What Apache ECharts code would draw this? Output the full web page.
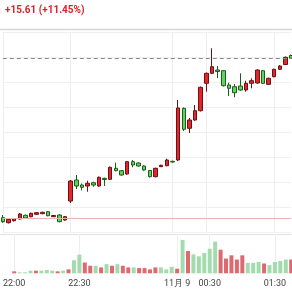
<!DOCTYPE html>
<html><head><meta charset="utf-8">
<script src="https://cdn.jsdelivr.net/npm/echarts@6/dist/echarts.min.js"></script>
<style>html,body{margin:0;padding:0;background:#fff}#c{width:292px;height:292px}</style>
</head><body><div id="c"></div>
<script>
const categories = ['21:30','21:35','21:40','21:45','21:50','21:55',
 '22:00','22:05','22:10','22:15','22:20','22:25','22:30','22:35','22:40','22:45','22:50','22:55',
 '23:00','23:05','23:10','23:15','23:20','23:25','23:30','23:35','23:40','23:45','23:50','23:55',
 '00:00','00:05','00:10','00:15','00:20','00:25','00:30','00:35','00:40','00:45','00:50','00:55',
 '01:00','01:05','01:10','01:15','01:20','01:25','01:30','01:35','01:40','01:45'];
const tickIndex = [0, 12, 30, 36, 48];
const tickLabels = ['22:00', '22:30', '11月 9', '00:30', '01:30'];
// [open, close, low, high]
const candles = [
 [136.41,136.01,135.88,136.68],[135.91,136.25,135.83,136.33],[136.11,136.31,136.03,136.38],
 [136.28,136.78,136.23,136.88],[136.65,136.38,136.33,136.73],[136.51,136.85,136.45,136.93],
 [136.75,136.91,136.68,136.98],[136.81,136.95,136.76,137.01],[137.01,136.61,136.55,137.08],
 [136.51,136.63,136.48,136.68],[136.68,136.01,135.95,136.75],[136.18,136.51,136.11,136.58],
 [138.08,140.08,137.88,140.18],[140.18,139.58,139.28,140.68],[139.68,139.45,139.13,139.83],
 [139.58,139.85,139.01,140.11],[139.91,139.68,139.51,140.01],[139.58,140.45,139.51,140.53],
 [140.35,140.23,139.58,140.41],[140.25,141.45,140.18,141.53],[141.35,141.11,141.05,141.91],
 [141.11,140.68,140.61,141.18],[140.78,142.01,140.71,142.08],[142.01,141.68,141.45,142.18],
 [141.88,141.58,141.51,141.95],[141.58,141.18,141.11,141.65],[141.13,140.51,140.43,141.18],
 [140.51,141.35,140.45,141.41],[141.51,141.65,141.48,141.71],[141.61,142.18,141.55,142.31],
 [142.05,141.98,141.91,142.11],[142.18,147.38,142.08,148.18],[147.35,145.25,145.08,147.43],
 [145.35,146.18,144.88,146.38],[146.18,147.11,146.11,147.68],[147.11,149.45,147.03,149.53],
 [149.85,150.85,149.01,150.93],[150.85,151.51,150.78,153.35],[151.18,151.03,150.38,151.58],
 [151.11,149.61,149.53,151.18],[149.68,149.35,148.58,149.91],[149.51,148.91,148.45,149.78],
 [149.58,149.18,149.11,150.85],[149.18,149.85,149.01,150.11],[149.85,150.11,149.35,150.35],
 [149.88,151.18,149.81,151.25],[151.11,149.85,149.78,151.18],[149.75,150.35,149.68,150.41],
 [150.51,151.25,150.45,151.31],[151.25,151.58,151.18,151.68],[151.73,152.45,151.68,152.53],
 [152.63,152.36,152.30,152.73]
];
const volumes = [2,1,1,2.7,2.7,2.7,3.3,2.7,2,2.7,4,13.3,19,11,7.7,7.7,6,9.3,7.7,9.3,7.7,6,6,5.3,5.3,4,
 6,6,4,6.7,4.7,34,22.6,19.3,17.3,20.6,25,32.3,24,15,18.3,14,18.3,10.6,10.6,11.6,10,8.3,11.6,12.6,14,14];
const prevClose = 136.33;
const lastClose = 152.36;
const changeText = '+15.61 (+11.45%)';

const chart = echarts.init(document.getElementById('c'));
const volData = volumes.map((v, i) => ({
  value: v,
  itemStyle: { color: candles[i][1] >= candles[i][0] ? '#a3dbae' : '#de6a70' }
}));
const splitCfg = { show: true, interval: (i) => tickIndex.includes(i), lineStyle: { color: '#eeeeee', width: 1 } };
chart.setOption({
  animation: false,
  graphic: [
    { type: 'text', left: 5, top: 5, style: { text: changeText, fill: '#d8232a', font: 'bold 10px Roboto' } },
    { type: 'line', shape: { x1: 0, y1: 29.5, x2: 292, y2: 29.5 }, style: { stroke: '#d6d6d6', lineWidth: 1.5 } },
    { type: 'line', shape: { x1: 0, y1: 234.5, x2: 292, y2: 234.5 }, style: { stroke: '#e2e2e2', lineWidth: 1 } }
  ],
  grid: [
    { left: 2.8, width: 288.4, top: 31.8, height: 200 },
    { left: 2.8, width: 288.4, top: 234, height: 39.3 }
  ],
  xAxis: [
    { type: 'category', gridIndex: 0, data: categories, boundaryGap: false,
      axisLine: { show: false }, axisTick: { show: false }, axisLabel: { show: false }, splitLine: splitCfg },
    { type: 'category', gridIndex: 1, data: categories, boundaryGap: false,
      axisLine: { show: false }, axisTick: { show: false },
      axisLabel: { show: true, interval: (i) => tickIndex.includes(i), align: 'center',
        alignMinLabel: 'center', alignMaxLabel: 'center', hideOverlap: false,
        formatter: (v, i) => tickLabels[tickIndex.indexOf(i)], color: '#444', fontSize: 9, fontFamily: 'Roboto', margin: 6 },
      splitLine: splitCfg }
  ],
  yAxis: [
    { type: 'value', gridIndex: 0, min: 135, max: 155, interval: 2.5, axisLabel: { show: false },
      axisLine: { show: false }, axisTick: { show: false }, splitLine: { show: true, lineStyle: { color: '#f0f0f0' } } },
    { type: 'value', gridIndex: 1, min: 0, max: 40, axisLabel: { show: false },
      axisLine: { show: false }, axisTick: { show: false }, splitLine: { show: false } }
  ],
  series: [
    { type: 'candlestick', data: candles, barWidth: 4, clip: false,
      itemStyle: { color: '#e3262d', color0: '#5fd35f', borderColor: '#6e1111', borderColor0: '#1d5e1d', borderWidth: 1 },
      markLine: { silent: true, symbol: 'none', label: { show: false },
        data: [
          { yAxis: lastClose, lineStyle: { color: '#8a8a8a', type: [4, 3], width: 1 } },
          { yAxis: prevClose, lineStyle: { color: '#e7b3b3', type: 'solid', width: 1 } }
        ] } },
    { type: 'bar', xAxisIndex: 1, yAxisIndex: 1, data: volData, barWidth: 4, clip: false }
  ]
});
</script></body></html>
